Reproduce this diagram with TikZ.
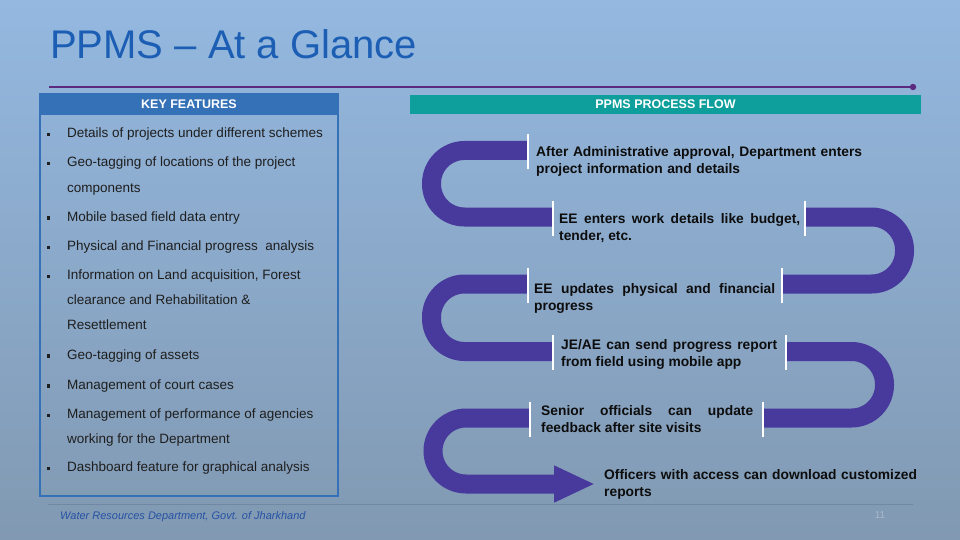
\documentclass[tikz,border=0pt]{standalone}
\usepackage{fontspec}
\setmainfont{Liberation Sans}
\usepackage{tikz}
\usetikzlibrary{arrows.meta,positioning,calc}
\definecolor{bgtop}{HTML}{94B8E0}
\definecolor{bgbottom}{HTML}{8199B2}
\definecolor{titleblue}{HTML}{1B5EB4}
\definecolor{rulepurple}{HTML}{5B2A80}
\definecolor{keyblue}{HTML}{3471B7}
\definecolor{flowteal}{HTML}{0E9F9C}
\definecolor{flowband}{HTML}{483A9C}
\definecolor{featgray}{HTML}{1E1E1E}
\definecolor{inkblack}{HTML}{0D0D0D}
\definecolor{footblue}{HTML}{2552A3}
\definecolor{footgray}{HTML}{7089A3}
\definecolor{pagegray}{HTML}{A8B8C8}
\hyphenpenalty=10000
\tolerance=10000

\tikzset{
  band/.style={draw=flowband, line width=19pt, rounded corners=33pt},
  sepline/.style={draw=white, line width=1.3pt},
  headbar/.style={inner sep=0pt, text=white, font=\bfseries\fontsize{12.5}{15}\selectfont},
  feature/.style={anchor=north west, inner sep=0pt, align=left, text=featgray,
    font=\fontsize{13.5}{25.3}\selectfont},
  bulletsq/.style={fill=featgray, inner sep=0pt, minimum width=3pt, minimum height=3.5pt},
  flowtext/.style={anchor=north west, inner sep=0pt, text=inkblack,
    font=\bfseries\fontsize{13.8}{17}\selectfont}
}

\begin{document}
\begin{tikzpicture}[x=1pt,y=-1pt]
        \useasboundingbox (0,0) rectangle (960,540);
        \shade[top color=bgtop, bottom color=bgbottom] (0,0) rectangle (960,540);

        % title and rule
        \node[anchor=base west, inner sep=0pt, text=titleblue, font=\fontsize{40}{48}\selectfont] (title) at (50,58.3) {PPMS -- At a Glance};
        \draw[rulepurple, line width=2pt] (49,87) -- (913,87);
        \fill[rulepurple] (913,87) circle[radius=3.2pt];

        % key features
        \draw[keyblue, line width=2pt] (40,94) rectangle (338,496);
        \node[headbar, fill=keyblue, minimum width=298pt, minimum height=21pt] (keyhead) at (189,104.5) {KEY FEATURES};
        \foreach \yy/\txt [count=\i] in {
            132.7/{Details of projects under different schemes},
            161.7/{Geo-tagging of locations of the project\\components},
            216/{Mobile based field data entry},
            245.7/{Physical and Financial progress \ analysis},
            274.3/{Information on Land acquisition, Forest\\clearance and Rehabilitation \&\\Resettlement},
            354/{Geo-tagging of assets},
            384/{Management of court cases},
            413.3/{Management of performance of agencies\\working for the Department},
            466.7/{Dashboard feature for graphical analysis}} {
          \node[bulletsq] (dot\i) at (48.5,\yy+2) {};
          \node[feature] (feat\i) at (67,\yy-4.9) {\txt};
        }

        % process flow
        \node[headbar, fill=flowteal, minimum width=511pt, minimum height=19.5pt] (flowhead) at (665.5,104.6) {PPMS PROCESS FLOW};

        \coordinate (b1) at (528,150.5);
        \coordinate (b2w) at (553,217);
        \coordinate (b2e) at (805,217);
        \coordinate (b3w) at (528,284);
        \coordinate (b3e) at (782,284);
        \coordinate (b4w) at (553,351.5);
        \coordinate (b4e) at (786,351.5);
        \coordinate (b5w) at (530,418);
        \coordinate (b5e) at (763,418);
        \coordinate (fin) at (595,484);

        \draw[band] (b1) -- ++(-96.5,0) |- (b2w);
        \draw[band] (b2e) -- ++(99.5,0) |- (b3e);
        \draw[band] (b3w) -- ++(-96.5,0) |- (b4w);
        \draw[band] (b4e) -- ++(98.5,0) |- (b5e);
        \draw[band, -{Triangle[length=41pt,width=34pt]}] (b5w) -- ++(-97,0) |- (fin);

        \foreach \b in {b1,b2w,b2e,b3w,b3e,b4w,b4e,b5w,b5e}
          \draw[sepline] ([yshift=16.5pt]\b) -- ([yshift=-18.5pt]\b);

        \node[flowtext, text width=330pt, align=left] (step1) at (536,146) {After Administrative approval, Department enters project information and details};
        \node[flowtext, text width=241pt, align=justify] (step2) at (559,213) {EE enters work details like budget, tender, etc.};
        \node[flowtext, text width=241pt, align=justify] (step3) at (534,283) {EE updates physical and financial progress};
        \node[flowtext, text width=216pt, align=justify] (step4) at (561,339) {JE/AE can send progress report from field using mobile app};
        \node[flowtext, text width=212pt, align=justify] (step5) at (541,405) {Senior officials can update feedback after site visits};
        \node[flowtext, text width=316pt, align=left] (step6) at (604,469) {Officers with access can download customized reports};

        % footer
        \draw[footgray, line width=1pt] (48,504) -- (913,504);
        \node[anchor=base west, inner sep=0pt, text=footblue, font=\itshape\fontsize{11}{13}\selectfont] (dept) at (60,519) {Water Resources Department, Govt. of Jharkhand};
        \node[inner sep=0pt, text=pagegray, font=\fontsize{10}{12}\selectfont] (pageno) at (880,515) {11};
      \end{tikzpicture}
\end{document}
